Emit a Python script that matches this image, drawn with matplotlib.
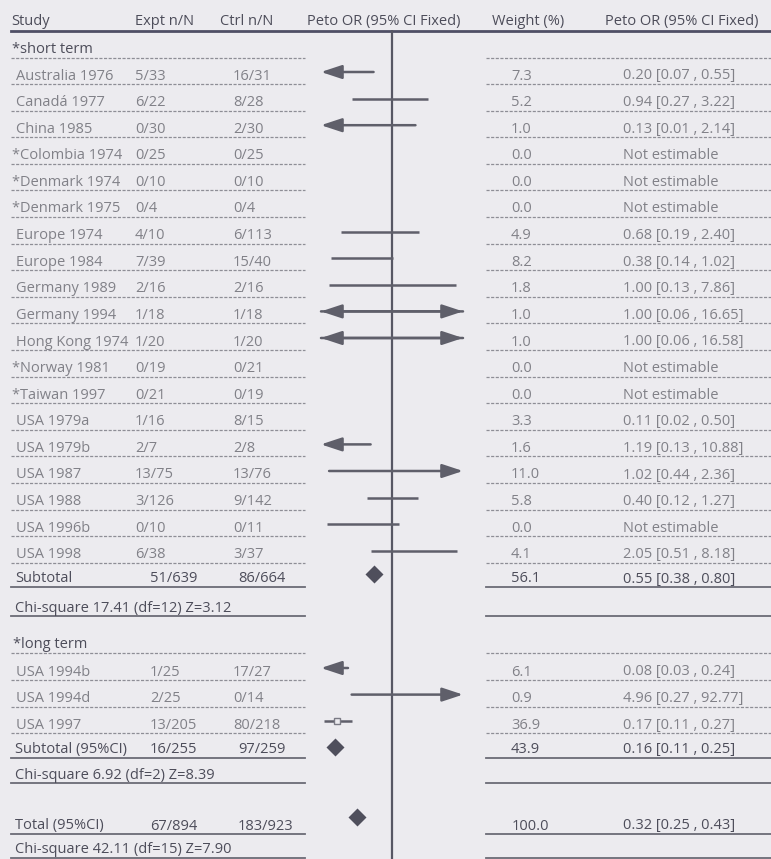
import numpy as np
import matplotlib
matplotlib.use("Agg")
import matplotlib.pyplot as plt

nan = np.nan

# ---------------- data ----------------
short_names = ["Australia 1976", "Canadá 1977", "China 1985", "*Colombia 1974", "*Denmark 1974",
               "*Denmark 1975", "Europe 1974", "Europe 1984", "Germany 1989", "Germany 1994",
               "Hong Kong 1974", "*Norway 1981", "*Taiwan 1997", "USA 1979a", "USA 1979b",
               "USA 1987", "USA 1988", "USA 1996b", "USA 1998"]
short_expt = ["5/33", "6/22", "0/30", "0/25", "0/10", "0/4", "4/10", "7/39", "2/16", "1/18",
              "1/20", "0/19", "0/21", "1/16", "2/7", "13/75", "3/126", "0/10", "6/38"]
short_ctrl = ["16/31", "8/28", "2/30", "0/25", "0/10", "0/4", "6/113", "15/40", "2/16", "1/18",
              "1/20", "0/21", "0/19", "8/15", "2/8", "13/76", "9/142", "0/11", "3/37"]
short_weight = [7.3, 5.2, 1.0, 0.0, 0.0, 0.0, 4.9, 8.2, 1.8, 1.0, 1.0, 0.0, 0.0, 3.3, 1.6, 11.0, 5.8, 0.0, 4.1]
short_or = [0.20, 0.94, 0.13, nan, nan, nan, 0.68, 0.38, 1.00, 1.00, 1.00, nan, nan, 0.11, 1.19, 1.02, 0.40, nan, 2.05]
short_lo = [0.07, 0.27, 0.01, nan, nan, nan, 0.19, 0.14, 0.13, 0.06, 0.06, nan, nan, 0.02, 0.13, 0.44, 0.12, nan, 0.51]
short_hi = [0.55, 3.22, 2.14, nan, nan, nan, 2.40, 1.02, 7.86, 16.65, 16.58, nan, nan, 0.50, 10.88, 2.36, 1.27, nan, 8.18]
# confidence lines as they are drawn in the graphic panel, row by row
short_plot_lo = [0.07, 0.27, 0.01, nan, nan, nan, 0.19, 0.14, 0.13, 0.06, 0.06, nan, nan, nan, 0.02, 0.13, 0.44, 0.12, 0.51]
short_plot_hi = [0.55, 3.22, 2.14, nan, nan, nan, 2.40, 1.02, 7.86, 16.65, 16.58, nan, nan, nan, 0.50, 10.88, 2.36, 1.27, 8.18]

long_names = ["USA 1994b", "USA 1994d", "USA 1997"]
long_expt = ["1/25", "2/25", "13/205"]
long_ctrl = ["17/27", "0/14", "80/218"]
long_weight = [6.1, 0.9, 36.9]
long_or = [0.08, 4.96, 0.17]
long_lo = [0.03, 0.27, 0.11]
long_hi = [0.24, 92.77, 0.27]

sub_labels = ["Subtotal", "Subtotal (95%CI)", "Total (95%CI)"]
sub_expt = ["51/639", "16/255", "67/894"]
sub_ctrl = ["86/664", "97/259", "183/923"]
sub_weight = [56.1, 43.9, 100.0]
sub_or = [0.55, 0.16, 0.32]
sub_lo = [0.38, 0.11, 0.25]
sub_hi = [0.80, 0.25, 0.43]
chi_labels = ["Chi-square 17.41 (df=12) Z=3.12", "Chi-square 6.92 (df=2) Z=8.39",
              "Chi-square 42.11 (df=15) Z=7.90"]
group_labels = ["*short term", "*long term"]
headers = ["Study", "Expt n/N", "Ctrl n/N", "Peto OR (95% CI Fixed)", "Weight (%)", "Peto OR (95% CI Fixed)"]

# ---------------- style ----------------
W, H = 771, 859
BG = "#ecebef"
DARK = "#4d4d5a"
LIGHT = "#818188"
LINEC = "#5f5f6a"
FONT = "Open Sans"
FS = 10.5

fig = plt.figure(figsize=(W / 100, H / 100), dpi=100, facecolor=BG)
tx = fig.add_axes([0, 0, 1, 1])
tx.set_xlim(0, W)
tx.set_ylim(H, 0)
tx.axis("off")
tx.set_facecolor(BG)

PX0, PX1 = 321, 463   # graphic panel limits (0.1 .. 10)
fx = fig.add_axes([PX0 / W, 0, (PX1 - PX0) / W, 1])
fx.set_xscale("log")
fx.set_xlim(0.1, 10)
fx.set_ylim(H, 0)
fx.axis("off")
fx.patch.set_alpha(0)

XMIN, XMAX = 0.1, 10


def txt(x, y, s, color=LIGHT, weight="normal"):
    tx.text(x, y, s, ha="left", va="baseline", fontsize=FS, color=color,
            family=[FONT, "DejaVu Sans"], fontweight=weight)


def sep(y, solid=False, left=True, right=True):
    kw = dict(color="#6b6b76", lw=1.3) if solid else dict(color="#8e8e96", lw=0.9, ls=(0, (2.5, 1.2)))
    if left:
        tx.plot([11, 305], [y, y], **kw)
    if right:
        tx.plot([486, W], [y, y], **kw)


def ci(y, lo, hi, mark=None):
    if np.isnan(lo):
        return
    l, h = max(lo, XMIN), min(hi, XMAX)
    akw = dict(arrowstyle="-|>,head_length=1.15,head_width=0.38", color=LINEC, lw=1.8,
               shrinkA=0, shrinkB=0, mutation_scale=11)
    drawn = False
    if lo < XMIN:
        fx.annotate("", xy=(XMIN, y), xytext=(h, y), arrowprops=akw, annotation_clip=False)
        drawn = True
    if hi > XMAX:
        fx.annotate("", xy=(XMAX, y), xytext=(l, y), arrowprops=akw, annotation_clip=False)
        drawn = True
    if not drawn:
        fx.plot([l, h], [y, y], color=LINEC, lw=1.8, solid_capstyle="butt")
    if mark is not None:
        fx.plot([mark], [y], marker="s", ms=4.5, mfc=BG, mec="#7a7a84", mew=1.0)


def fmt_ci(o, l, h):
    if np.isnan(o):
        return "Not estimable"
    return f"{o:.2f} [{l:.2f} , {h:.2f}]"


# header
hx = [11, 135, 220, 307, 492, 605]
for x, s in zip(hx, headers):
    txt(x, 25, s, color=DARK)
tx.plot([11, W], [30.5, 30.5], color="#4f4f66", lw=2.0)

# null line
fx.vlines(1.0, 30, H, color="#575764", lw=1.6)

# short term group
txt(12, 53, group_labels[0], color=DARK)
sep(57.5)
PITCH = 26.6
for i in range(len(short_names)):
    s_y = 84 + i * PITCH
    b = s_y - 4.5
    nm = short_names[i]
    txt(12 if nm.startswith("*") else 16, b, nm)
    txt(135, b, short_expt[i])
    txt(233, b, short_ctrl[i])
    txt(511, b, f"{short_weight[i]:.1f}")
    txt(623, b, fmt_ci(short_or[i], short_lo[i], short_hi[i]))
    sep(s_y)
    ci(s_y - 12, short_plot_lo[i], short_plot_hi[i])

# short subtotal
y_sub1 = 587
txt(15, y_sub1 - 4.5, sub_labels[0], color=DARK)
txt(150, y_sub1 - 4.5, sub_expt[0], color=DARK)
txt(238, y_sub1 - 4.5, sub_ctrl[0], color=DARK)
txt(511, y_sub1 - 4.5, f"{sub_weight[0]:.1f}", color=DARK)
txt(623, y_sub1 - 4.5, fmt_ci(sub_or[0], sub_lo[0], sub_hi[0]), color=DARK)
sep(y_sub1, solid=True)
fx.plot([sub_or[0]], [y_sub1 - 13], marker="D", ms=9, color="#4f4f5c", mec="none")
txt(15, 612, chi_labels[0], color=DARK)
sep(616, solid=True)

# long term group
txt(13, 648, group_labels[1], color=DARK)
sep(653)
for i in range(len(long_names)):
    s_y = 680 + i * PITCH
    b = s_y - 4.5
    txt(16, b, long_names[i])
    txt(150, b, long_expt[i])
    txt(233, b, long_ctrl[i])
    txt(511, b, f"{long_weight[i]:.1f}")
    txt(623, b, fmt_ci(long_or[i], long_lo[i], long_hi[i]))
    sep(s_y)
    ci(s_y - 12, long_lo[i], long_hi[i], mark=long_or[i] if long_weight[i] > 20 else None)

y_sub2 = 757.5
txt(15, y_sub2 - 4.5, sub_labels[1], color=DARK)
txt(150, y_sub2 - 4.5, sub_expt[1], color=DARK)
txt(238, y_sub2 - 4.5, sub_ctrl[1], color=DARK)
txt(511, y_sub2 - 4.5, f"{sub_weight[1]:.1f}", color=DARK)
txt(623, y_sub2 - 4.5, fmt_ci(sub_or[1], sub_lo[1], sub_hi[1]), color=DARK)
sep(y_sub2, solid=True)
fx.plot([sub_or[1]], [y_sub2 - 11], marker="D", ms=9, color="#4f4f5c", mec="none")
txt(15, 779, chi_labels[1], color=DARK)
sep(783, solid=True)

# total
y_tot = 834
txt(15, y_tot - 4.5, sub_labels[2], color=DARK)
txt(150, y_tot - 4.5, sub_expt[2], color=DARK)
txt(238, y_tot - 4.5, sub_ctrl[2], color=DARK)
txt(512, y_tot - 4.5, f"{sub_weight[2]:.1f}", color=DARK)
txt(623, y_tot - 4.5, fmt_ci(sub_or[2], sub_lo[2], sub_hi[2]), color=DARK)
sep(y_tot, solid=True)
fx.plot([sub_or[2]], [y_tot - 17], marker="D", ms=9, color="#4f4f5c", mec="none")
txt(15, 853, chi_labels[2], color=DARK)
sep(857.5, solid=True)

fig.savefig("out.png", dpi=100, facecolor=BG)
